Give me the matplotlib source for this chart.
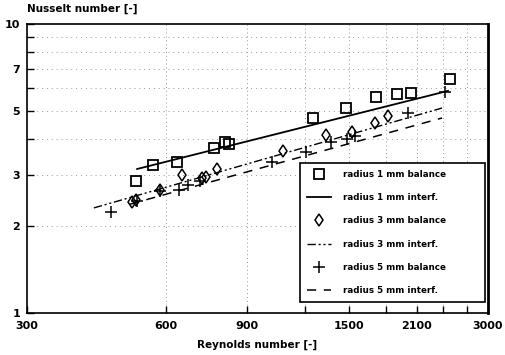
import matplotlib
matplotlib.use("Agg")
import matplotlib.pyplot as plt
from matplotlib.ticker import FixedLocator, NullFormatter

plt.rcParams['font.family'] = ['DejaVu Sans']

# radius 1 mm balance (squares)
re_r1 = [517, 563, 634, 763, 807, 823, 1252, 1476, 1714, 1905, 2043, 2481]
nu_r1 = [2.86, 3.25, 3.33, 3.72, 3.91, 3.85, 4.73, 5.12, 5.59, 5.73, 5.77, 6.45]
# radius 1 mm interferometry (fit line endpoints)
re_f1 = [520, 2457]
nu_f1 = [3.15, 5.87]

# radius 3 mm balance (diamonds)
re_r3 = [507, 517, 583, 651, 719, 734, 775, 1078, 1336, 1521, 1706, 1821]
nu_r3 = [2.42, 2.46, 2.66, 3.00, 2.93, 2.95, 3.15, 3.64, 4.13, 4.23, 4.54, 4.81]
re_f3 = [419, 2385]
nu_f3 = [2.31, 5.12]

# radius 5 mm balance (plus)
re_r5 = [456, 520, 583, 641, 670, 712, 1020, 1209, 1369, 1483, 1543, 2013, 2421]
nu_r5 = [2.24, 2.44, 2.64, 2.66, 2.77, 2.86, 3.33, 3.61, 3.91, 4.00, 4.10, 4.92, 5.82]
re_f5 = [502, 2385]
nu_f5 = [2.38, 4.73]

x_ticklabels = [300, 600, 900, 1500, 2100, 3000]
x_ticks_minor = [1200, 1800, 2400, 2700]
y_ticklabels = [1, 2, 3, 5, 7, 10]
y_ticks_minor = [4, 6, 8, 9]

labels = ['radius 1 mm balance', 'radius 1 mm interf.',
          'radius 3 mm balance', 'radius 3 mm interf.',
          'radius 5 mm balance', 'radius 5 mm interf.']

fig = plt.figure(figsize=(5.05, 3.55), dpi=100)
ax = fig.add_axes([27/505, 1-313/355, (488-27)/505, (313-24)/355])
ax.set_xscale('log')
ax.set_yscale('log')
ax.set_xlim(300, 3000)
ax.set_ylim(1, 10)

h1, = ax.plot(re_r1, nu_r1, ls='none', marker='s', ms=6.5, mfc='none', mec='black', mew=1.3)
l1, = ax.plot(re_f1, nu_f1, color='black', lw=1.3)
h3, = ax.plot(re_r3, nu_r3, ls='none', marker='d', ms=6.5, mfc='none', mec='black', mew=1.1)
l3, = ax.plot(re_f3, nu_f3, color='black', lw=1.0, ls=(0, (6, 2, 1.5, 2, 1.5, 2)))
h5, = ax.plot(re_r5, nu_r5, ls='none', marker='+', ms=8, mec='black', mew=1.1)
l5, = ax.plot(re_f5, nu_f5, color='black', lw=1.1, ls=(0, (6, 5)))

# grid
for xv in [600, 900, 1200, 1500, 1800, 2100, 2400, 2700]:
    ax.axvline(xv, color='#9a9a9a', lw=0.7, ls=(0, (1, 3)), zorder=0)
for yv in [2, 3, 4, 5, 6, 7, 8, 9]:
    ax.axhline(yv, color='#9a9a9a', lw=0.7, ls=(0, (1, 4)), zorder=0)

ax.xaxis.set_major_locator(FixedLocator(x_ticklabels))
ax.set_xticklabels([str(v) for v in x_ticklabels])
ax.xaxis.set_minor_locator(FixedLocator(x_ticks_minor))
ax.xaxis.set_minor_formatter(NullFormatter())
ax.yaxis.set_major_locator(FixedLocator(y_ticklabels))
ax.set_yticklabels([str(v) for v in y_ticklabels])
ax.yaxis.set_minor_locator(FixedLocator(y_ticks_minor))
ax.yaxis.set_minor_formatter(NullFormatter())
ax.tick_params(which='both', direction='in', length=5, width=1, color='black',
               labelsize=8)
ax.tick_params(axis='x', pad=6)
ax.tick_params(axis='y', pad=5)
for lab in ax.get_xticklabels() + ax.get_yticklabels():
    lab.set_fontweight('bold')

for side in ['left', 'bottom', 'top']:
    ax.spines[side].set_linewidth(1.2)
ax.spines['right'].set_linewidth(2.0)

ax.set_xlabel('Reynolds number [-]', fontsize=7.5, fontweight='bold', labelpad=6)
ax.text(0.0, 1.035, 'Nusselt number [-]', transform=ax.transAxes,
        fontsize=7.5, fontweight='bold', ha='left', va='bottom')

leg = ax.legend([h1, l1, h3, l3, h5, l5], labels, loc='lower left',
                bbox_to_anchor=(0.592, 0.038, 0.401, 0.481), mode='expand',
                prop={'size': 6.3, 'weight': 'bold'},
                frameon=True, fancybox=False, edgecolor='black', framealpha=1,
                handlelength=2.8, handletextpad=1.3, labelspacing=1.62,
                borderpad=0.8, borderaxespad=0)
leg.get_frame().set_linewidth(1.2)

fig.savefig('out.png', dpi=100)
